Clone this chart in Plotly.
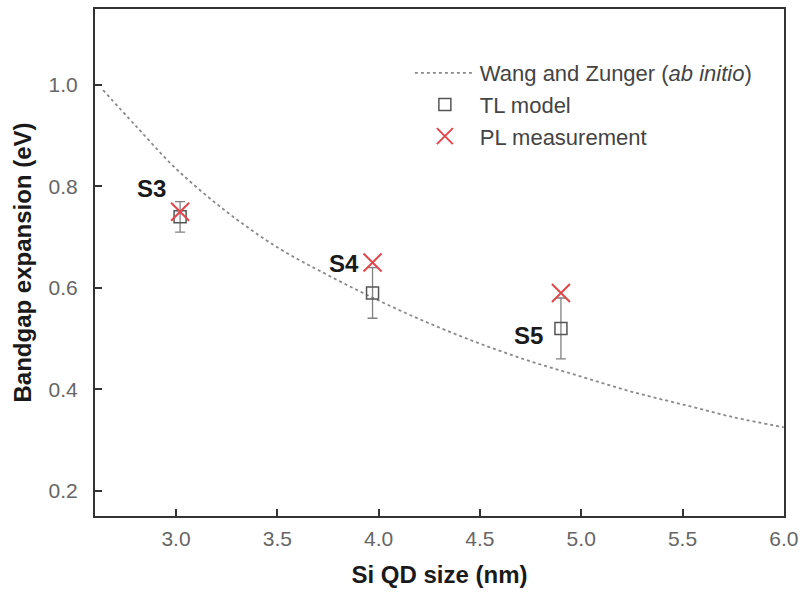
import plotly.graph_objects as go

# Wang and Zunger curve
wz_size = [2.64, 2.8, 3.0, 3.25, 3.5, 3.75, 4.0, 4.25, 4.5, 4.75, 5.0, 5.25, 5.5, 5.75, 6.0]
wz_gap = [0.99, 0.92, 0.835, 0.75, 0.68, 0.625, 0.575, 0.53, 0.49, 0.455, 0.425, 0.395, 0.37, 0.345, 0.325]

# samples
samples = ["S3", "S4", "S5"]
size_nm = [3.02, 3.97, 4.90]
tl_gap = [0.74, 0.59, 0.52]
tl_err = [0.03, 0.05, 0.06]
pl_gap = [0.75, 0.65, 0.59]
label_x = [2.88, 3.83, 4.74]
label_y = [0.795, 0.648, 0.506]

FONT = "Liberation Sans, Arial, sans-serif"

fig = go.Figure()
fig.add_trace(go.Scatter(
    x=wz_size, y=wz_gap, mode="lines", line=dict(color="#8a8a8a", width=1.8, dash="dot", shape="spline"),
    name="Wang and Zunger (<i>ab initio</i>)"))
fig.add_trace(go.Scatter(
    x=size_nm, y=tl_gap, mode="markers",
    marker=dict(symbol="square-open", size=12, color="#555555", line=dict(width=1.5, color="#555555")),
    error_y=dict(type="data", array=tl_err, visible=True, color="#808080", thickness=1.3, width=5),
    name="TL model"))
fig.add_trace(go.Scatter(
    x=size_nm, y=pl_gap, mode="markers",
    marker=dict(symbol="x-thin-open", size=18, color="#e0474c", line=dict(width=2, color="#e0474c")),
    name="PL measurement"))

for s, lx, ly in zip(samples, label_x, label_y):
    fig.add_annotation(x=lx, y=ly, text="<b>%s</b>" % s, showarrow=False,
                       font=dict(family=FONT, size=24, color="#1a1a1a"))

axis_common = dict(
    showline=True, linecolor="#333333", linewidth=2, mirror=True,
    ticks="inside", ticklen=7, tickwidth=1.5, tickcolor="#333333",
    showgrid=False, zeroline=False,
    tickfont=dict(family=FONT, size=21, color="#666666"),
)
fig.update_xaxes(range=[2.6, 6.001], tick0=3.0, dtick=0.5, tickformat=".1f",
                 title=dict(text="<b>Si QD size (nm)</b>", font=dict(family=FONT, size=24, color="#1a1a1a"), standoff=17),
                 ticklabelstandoff=3, **axis_common)
fig.update_yaxes(range=[0.15, 1.15], tick0=0.2, dtick=0.2, tickformat=".1f",
                 title=dict(text="<b>Bandgap expansion (eV)</b>", font=dict(family=FONT, size=24, color="#1a1a1a"), standoff=10),
                 ticklabelstandoff=11, **axis_common)

fig.update_layout(
    width=810, height=594,
    margin=dict(l=95, r=26, t=7, b=78),
    paper_bgcolor="white", plot_bgcolor="white",
    font=dict(family=FONT),
    legend=dict(x=0.457, y=0.915, xanchor="left", yanchor="top", bgcolor="rgba(0,0,0,0)",
                font=dict(family=FONT, size=22, color="#444444"), tracegroupgap=0, itemwidth=60),
    showlegend=True,
)

fig.write_html("out.html")
